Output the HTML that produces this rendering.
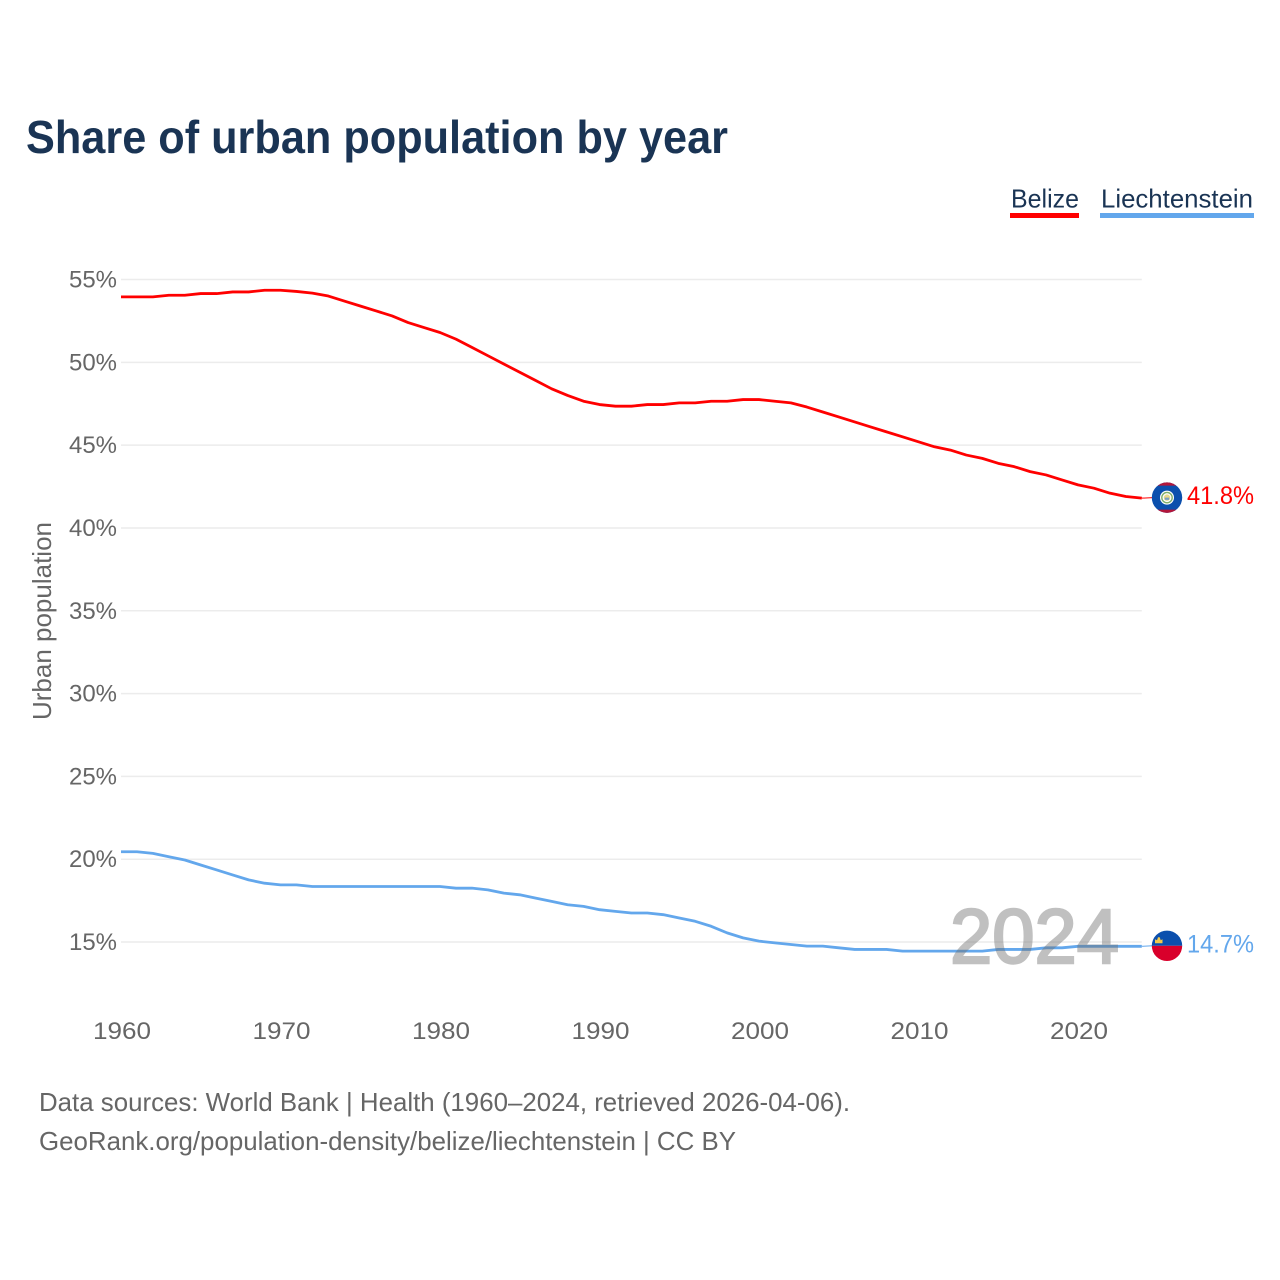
<!DOCTYPE html>
<html lang="en">
<head>
<meta charset="utf-8">
<title>Share of urban population by year</title>
<style>
html,body{margin:0;padding:0;background:#fff;}
svg{display:block;font-family:"Liberation Sans",sans-serif;}
text{fill:#666;}
</style>
</head>
<body>
<svg id="chart" width="1280" height="1280" viewBox="0 0 1280 1280" xmlns="http://www.w3.org/2000/svg">
  <defs>
    <clipPath id="clip-bz"><circle cx="0" cy="0" r="15.2"></circle></clipPath>
    <clipPath id="clip-li"><circle cx="0" cy="0" r="15.2"></circle></clipPath>
  </defs>
  <rect x="0" y="0" width="1280" height="1280" fill="#ffffff"></rect>
  <text x="26" y="153" font-size="46" font-weight="700" style="fill:#1a3454" textLength="702" lengthAdjust="spacingAndGlyphs">Share of urban population by year</text>

  <g>
    <text x="1011" y="207.500" font-size="26" style="fill:#1a3454" textLength="68" lengthAdjust="spacingAndGlyphs">Belize</text>
    <rect x="1010" y="213" width="69" height="5" fill="#ff0000"></rect>
  </g>
  <g>
    <text x="1101" y="207.500" font-size="26" style="fill:#1a3454" textLength="152" lengthAdjust="spacingAndGlyphs">Liechtenstein</text>
    <rect x="1100" y="213" width="154" height="5" fill="#63a7ec"></rect>
  </g>

  <g id="grid"></g>
  <g id="yticks"></g>
  <g id="xticks"></g>
  <text transform="translate(51,621) rotate(-90)" text-anchor="middle" font-size="26" textLength="198" lengthAdjust="spacingAndGlyphs">Urban population</text>

  <path id="line-bz" fill="none" stroke="#ff0000" stroke-width="2.8" stroke-linejoin="round"></path>
  <path id="line-li" fill="none" stroke="#63a7ec" stroke-width="2.8" stroke-linejoin="round"></path>
  <line id="conn-bz" stroke="#ff0000" stroke-width="1"></line>
  <line id="conn-li" stroke="#63a7ec" stroke-width="1"></line>

  <text x="1119" y="963" text-anchor="end" font-size="77" opacity="0.43" style="fill:#6e6e6e;stroke:#6e6e6e;stroke-width:2.4" textLength="169" lengthAdjust="spacingAndGlyphs">2024</text>

  <g id="flag-bz" clip-path="url(#clip-bz)">
    <rect x="-16" y="-16" width="32" height="32" fill="#0b4fad"></rect>
    <rect x="-16" y="-16" width="32" height="4" fill="#b3163a"></rect>
    <rect x="-16" y="12" width="32" height="4" fill="#b3163a"></rect>
    <circle r="7" fill="#ffffff"></circle>
    <circle r="5.2" fill="none" stroke="#7fae6a" stroke-width="1.4"></circle>
    <circle r="3.2" fill="#e9d98a"></circle>
    <rect x="-2.2" y="0" width="4.4" height="2.2" fill="#7aa0c8"></rect>
  </g>
  <g id="flag-li" clip-path="url(#clip-li)">
    <rect x="-16" y="-16" width="32" height="16" fill="#0b4fad"></rect>
    <rect x="-16" y="0" width="32" height="16" fill="#d9002b"></rect>
    <path d="M-12-2.500h7.500v-4l-1.800 1-1-3h-1.700l-1 3-2-1z" fill="#f2c94c"></path>
  </g>
  <text id="label-bz" x="1187" font-size="25" style="fill:#ff0000" textLength="67" lengthAdjust="spacingAndGlyphs"></text>
  <text id="label-li" x="1187" font-size="25" style="fill:#63a7ec" textLength="67" lengthAdjust="spacingAndGlyphs"></text>

  <text x="39" y="1111" font-size="26" textLength="811" lengthAdjust="spacingAndGlyphs">Data sources: World Bank | Health (1960–2024, retrieved 2026-04-06).</text>
  <text x="39" y="1150" font-size="26" textLength="697" lengthAdjust="spacingAndGlyphs">GeoRank.org/population-density/belize/liechtenstein | CC BY</text>
</svg>
<script>
const startYear = 1960;
const yTickValues = [15, 20, 25, 30, 35, 40, 45, 50, 55];
const xTickValues = [1960, 1970, 1980, 1990, 2000, 2010, 2020];
const belize = [
  53.95, 53.95, 53.95, 54.05, 54.05, 54.15, 54.15, 54.25, 54.25, 54.35,
  54.35, 54.28, 54.18, 54.0, 53.7, 53.4, 53.1, 52.8, 52.4, 52.1,
  51.8, 51.4, 50.9, 50.4, 49.9, 49.4, 48.9, 48.4, 48.0, 47.65,
  47.45, 47.35, 47.35, 47.45, 47.45, 47.55, 47.55, 47.65, 47.65, 47.75,
  47.75, 47.65, 47.55, 47.3, 47.0, 46.7, 46.4, 46.1, 45.8, 45.5,
  45.2, 44.9, 44.7, 44.4, 44.2, 43.9, 43.7, 43.4, 43.2, 42.9,
  42.6, 42.4, 42.1, 41.9, 41.8
];
const liechtenstein = [
  20.45, 20.45, 20.35, 20.15, 19.95, 19.65, 19.35, 19.05, 18.75, 18.55,
  18.45, 18.45, 18.35, 18.35, 18.35, 18.35, 18.35, 18.35, 18.35, 18.35,
  18.35, 18.25, 18.25, 18.15, 17.95, 17.85, 17.65, 17.45, 17.25, 17.15,
  16.95, 16.85, 16.75, 16.75, 16.65, 16.45, 16.25, 15.95, 15.55, 15.25,
  15.05, 14.95, 14.85, 14.75, 14.75, 14.65, 14.55, 14.55, 14.55, 14.45,
  14.45, 14.45, 14.45, 14.45, 14.45, 14.55, 14.55, 14.55, 14.65, 14.65,
  14.74, 14.74, 14.74, 14.74, 14.74
];

const NS = 'http://www.w3.org/2000/svg';
function xScale(year) { return 121 + (year - 1960) * 15.95; }
function yScale(v) { return 942 - (v - 15) * 16.5625; }

const grid = document.getElementById('grid');
const yticks = document.getElementById('yticks');
const xticks = document.getElementById('xticks');

yTickValues.forEach(function (v) {
  const l = document.createElementNS(NS, 'line');
  
  
  l.setAttribute('x1', xScale(1960));
  l.setAttribute('x2', xScale(2024));
  l.setAttribute('y1', yScale(v));
  l.setAttribute('y2', yScale(v));
  l.setAttribute('stroke', '#ececec');
  l.setAttribute('stroke-width', '1.5');
  grid.appendChild(l);

  const t = document.createElementNS(NS, 'text');
  
  
  t.setAttribute('x', 117);
  t.setAttribute('y', yScale(v) + 8);
  t.setAttribute('text-anchor', 'end');
  t.setAttribute('font-size', '24.5');
  t.setAttribute('textLength', '48');
  t.setAttribute('lengthAdjust', 'spacingAndGlyphs');
  t.textContent = v + '%';
  yticks.appendChild(t);
});

xTickValues.forEach(function (y) {
  const t = document.createElementNS(NS, 'text');
  
  
  t.setAttribute('x', xScale(y) + 1);
  t.setAttribute('y', 1039);
  t.setAttribute('text-anchor', 'middle');
  t.setAttribute('font-size', '24.5');
  t.setAttribute('textLength', '58');
  t.setAttribute('lengthAdjust', 'spacingAndGlyphs');
  t.textContent = String(y);
  xticks.appendChild(t);
});

function drawSeries(values, key) {
  const d = values.map(function (v, i) {
    return (i ? 'L' : 'M') + xScale(startYear + i).toFixed(2) + ' ' + yScale(v).toFixed(2);
  }).join('');
  document.getElementById('line-' + key).setAttribute('d', d);
  const last = values[values.length - 1];
  const lastX = xScale(startYear + values.length - 1);
  const lastY = yScale(last);
  const conn = document.getElementById('conn-' + key);
  conn.setAttribute('x1', lastX);
  conn.setAttribute('x2', 1153);
  conn.setAttribute('y1', lastY);
  conn.setAttribute('y2', lastY - 0.5);
  document.getElementById('flag-' + key).setAttribute('transform', 'translate(1167,' + (lastY - 0.5) + ')');
  const label = document.getElementById('label-' + key);
  label.setAttribute('y', lastY + 6);
  label.textContent = last.toFixed(1) + '%';
}
drawSeries(belize, 'bz');
drawSeries(liechtenstein, 'li');
</script>
</body>
</html>
